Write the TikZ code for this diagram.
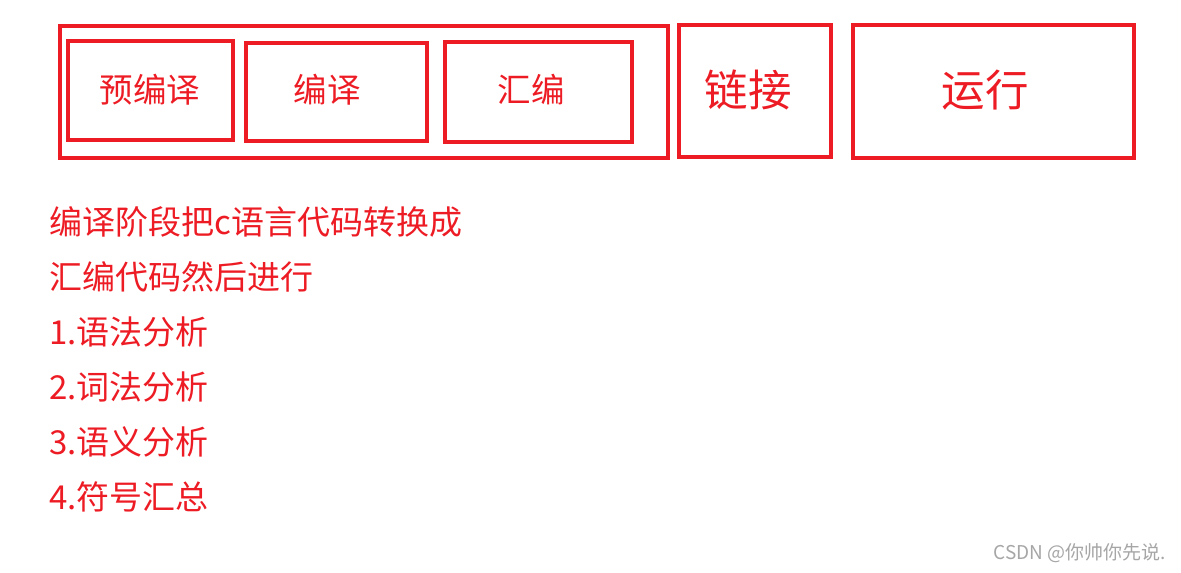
\documentclass[tikz,border=0pt]{standalone}
\usepackage{fontspec}
\setmainfont{Noto Sans CJK SC}
\definecolor{cred}{HTML}{ED1C24}
\begin{document}
\begin{tikzpicture}[x=1pt,y=-1pt,
  bx/.style={draw=cred,line width=4pt},
  lbl/.style={text=cred,inner sep=0pt},
  body/.style={text=cred,anchor=west,inner sep=0pt,font=\fontsize{33}{33}\selectfont}]
\useasboundingbox (0,0) rectangle (1181,573);
\draw[bx] (60,26) rectangle (668,158);
\draw[bx] (68,41) rectangle (233,140);
\draw[bx] (246,43) rectangle (427,141);
\draw[bx] (445,42) rectangle (632,142);
\draw[bx] (679,25) rectangle (831,157);
\draw[bx] (853,25) rectangle (1134,158);
\node[lbl,font=\fontsize{33.5}{33.5}\selectfont] (a) at (150,90) {预编译};
\node[lbl,font=\fontsize{33.5}{33.5}\selectfont] (b) at (327,90) {编译};
\node[lbl,font=\fontsize{33.5}{33.5}\selectfont] (c) at (531,90) {汇编};
\node[lbl,font=\fontsize{43.5}{43.5}\selectfont] (d) at (748,90) {链接};
\node[lbl,font=\fontsize{43.5}{43.5}\selectfont] (e) at (985,90) {运行};
\node[body] (t1) at (49,222) {编译阶段把c语言代码转换成};
\node[body] (t2) at (49,277) {汇编代码然后进行};
\node[body] (t3) at (49,332) {1.语法分析};
\node[body] (t4) at (49,387) {2.词法分析};
\node[body] (t5) at (49,442) {3.语义分析};
\node[body] (t6) at (49,497) {4.符号汇总};
\node[text=gray!70,anchor=east,inner sep=0pt,font=\fontsize{19}{19}\selectfont] (w) at (1166,553) {CSDN @你帅你先说.};
\end{tikzpicture}
\end{document}
